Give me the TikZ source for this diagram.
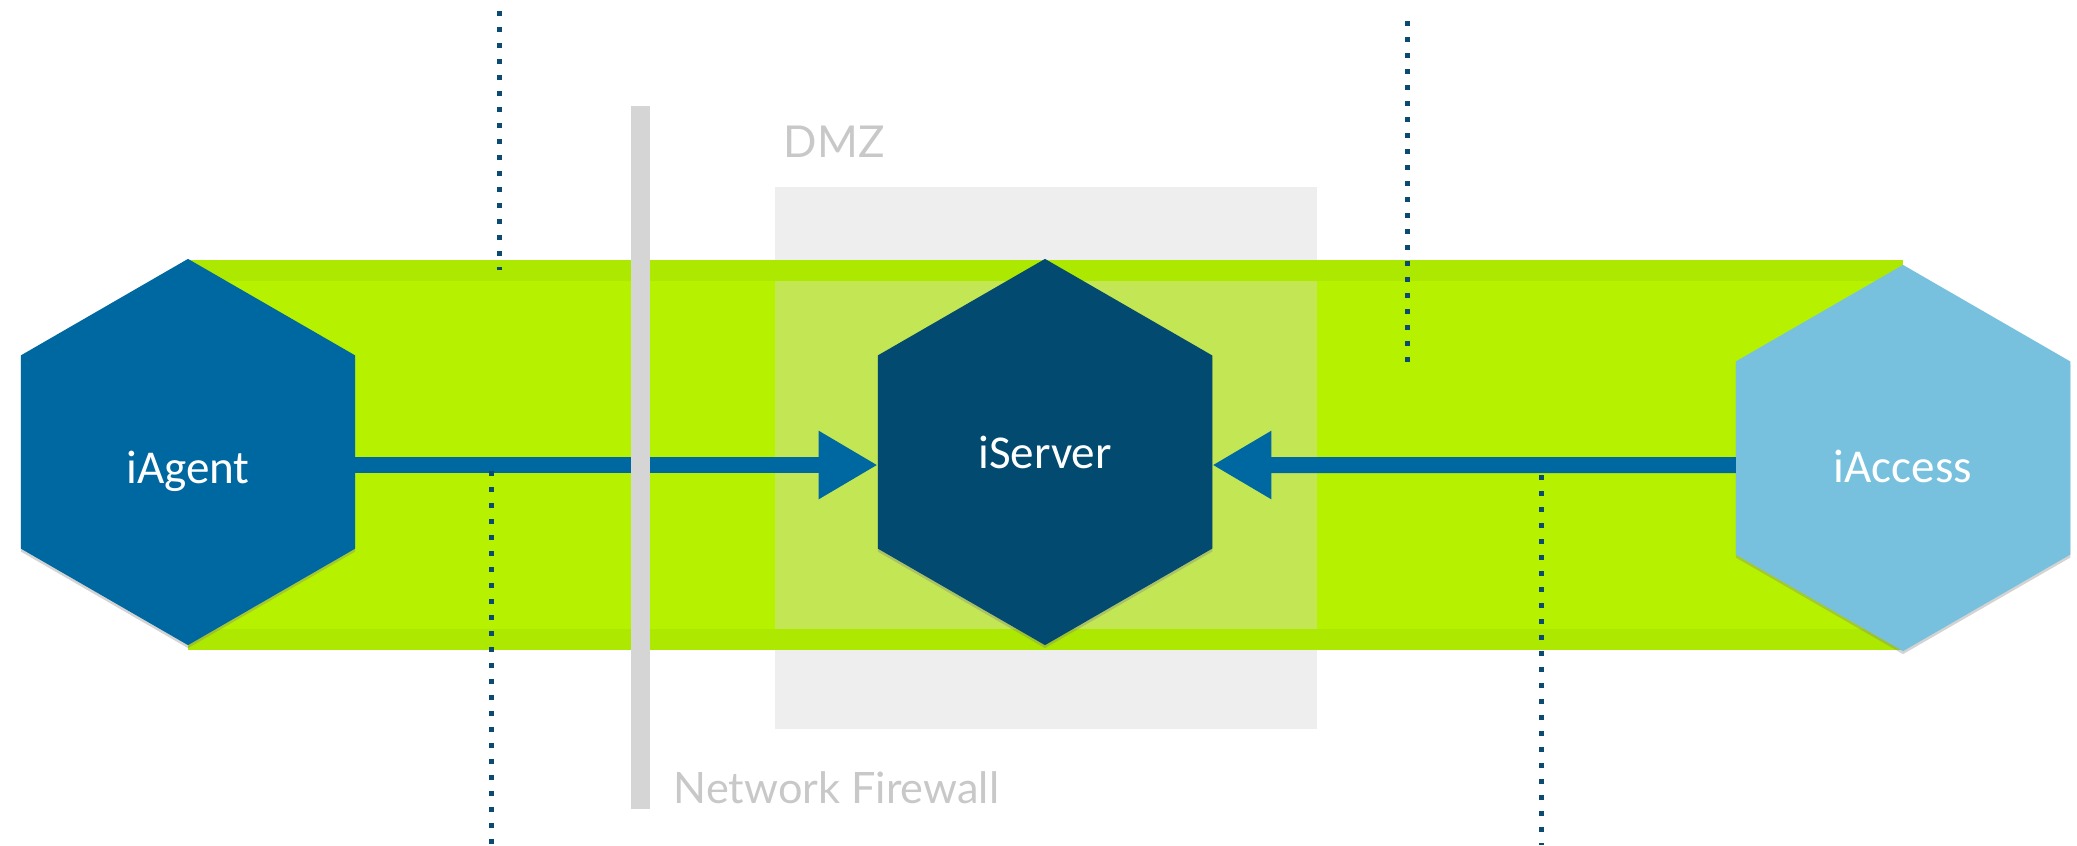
\documentclass[tikz,border=0pt]{standalone}
\usepackage{fontspec}
\setmainfont{Lato}
\newfontfamily\hexfont{Carlito}
\usetikzlibrary{shapes.geometric,arrows.meta,shadows}

\definecolor{bandgreen}{HTML}{B6F200}
\definecolor{bandedge}{HTML}{ACE800}
\definecolor{agentblue}{HTML}{0068A1}
\definecolor{servernavy}{HTML}{024A70}
\definecolor{accessblue}{HTML}{77C1DE}
\definecolor{dotnavy}{HTML}{0B4B72}
\definecolor{fwgray}{HTML}{D5D5D5}
\definecolor{zonegray}{HTML}{D4D4D4}
\definecolor{labelgray}{HTML}{C8C8C8}

\tikzset{
  hexa/.style={regular polygon, regular polygon sides=6, shape border rotate=30,
    minimum size=3.86cm, inner sep=0pt, outer sep=0pt,
    drop shadow={shadow xshift=0pt, shadow yshift=-0.03cm, opacity=0.35}},
  hextext/.style={inner sep=0pt, text=white,
    font=\hexfont\fontsize{13.4}{16}\selectfont},
  zonelabel/.style={anchor=base west, inner sep=0pt, text=labelgray,
    font=\fontsize{12.5}{15}\selectfont},
  flow/.style={agentblue, line width=0.16cm,
    -{Triangle[length=0.59cm,width=0.64cm]}},
  wire/.style={dotnavy, line width=0.05cm, dash pattern=on 0.05cm off 0.11cm},
}

\begin{document}
\begin{tikzpicture}[x=0.01cm, y=-0.01cm]
                \useasboundingbox (0,0) rectangle (2077,845);
                %% tunnel and dmz
                \fill[bandgreen] (188,260) rectangle (1903,650);
                \node[fill=zonegray, fill opacity=0.4, minimum size=5.42cm, inner sep=0pt] (dmz) at (1046,458) {};
                \fill[bandedge] (188,260) rectangle (1903,281);
                \fill[bandedge] (188,629) rectangle (1903,650);
                \node[zonelabel] (dmzlabel) at (783,157) {DMZ};
                %% components
                \node[hexa, fill=agentblue, label={[hextext,yshift=-0.19cm]center:iAgent}] (agent) at (188,452) {};
                \node[hexa, fill=servernavy, label={[hextext,yshift=0cm]center:iServer}] (server) at (1045,452) {};
                \node[hexa, fill=accessblue, label={[hextext,yshift=-0.08cm]center:iAccess}] (access) at (1903,458) {};
                %% connections
                \draw[flow] ([yshift=-0.13cm]agent.east) -- ([yshift=-0.13cm]server.west);
                \draw[flow] ([yshift=-0.07cm]access.west) -- ([yshift=-0.13cm]server.east);
                %% firewall
                \node[fill=fwgray, minimum width=0.19cm, minimum height=7.03cm, inner sep=0pt] (fw) at (640.5,457.5) {};
                \node[zonelabel, font=\fontsize{12.3}{14}\selectfont] (fwlabel) at (673,803) {Network Firewall};
                %% boundaries
                \foreach \x/\ya/\yb in {499/11/270, 491/471/845, 1407/21/362, 1541/475/845}
                  \draw[wire] (\x,\ya) -- (\x,\yb);
            \end{tikzpicture}
\end{document}
